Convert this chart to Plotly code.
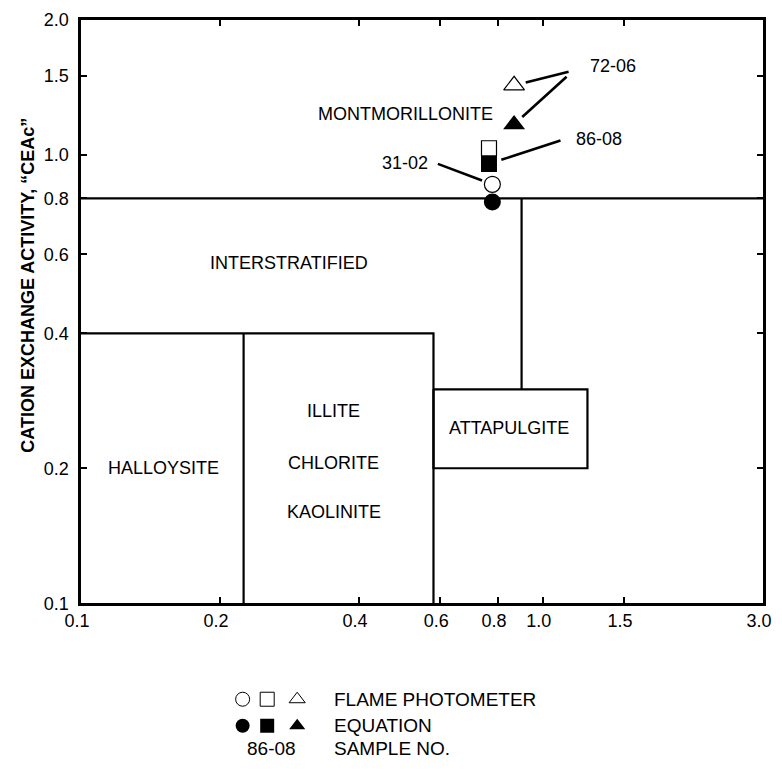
import math
import plotly.graph_objects as go

# ---------------- data ----------------
samples = ["31-02", "86-08", "72-06"]
symbols = ["circle", "square", "triangle-up"]
sample_x = [0.778, 0.765, 0.867]
flame_y = [0.86, 1.035, 1.43]
equation_y = [0.785, 0.955, 1.17]

x_ticks = [0.1, 0.2, 0.4, 0.6, 0.8, 1.0, 1.5, 3.0]
x_ticktext = ["0.1", "0.2", "0.4", "0.6", "0.8", "1.0", "1.5", "3.0"]
y_ticks = [0.1, 0.2, 0.4, 0.6, 0.8, 1.0, 1.5, 2.0]
y_ticktext = ["0.1", "0.2", "0.4", "0.6", "0.8", "1.0", "1.5", "2.0"]

# region boundaries (data units)
montmorillonite_floor = 0.8
interstrat_floor = 0.4
attapulgite_x = [0.58, 1.25]
attapulgite_y = [0.2, 0.3]
divider_x = 0.9
halloysite_limit_x = 0.225
low_box_right_x = 0.58

region_names = ["MONTMORILLONITE", "INTERSTRATIFIED", "HALLOYSITE",
                "ILLITE", "CHLORITE", "KAOLINITE", "ATTAPULGITE"]
region_label_x = [0.505, 0.282, 0.151, 0.353, 0.353, 0.353, 0.846]
region_label_y = [1.234, 0.575, 0.2, 0.269, 0.206, 0.160, 0.246]

y_title = "CATION EXCHANGE ACTIVITY, \u201cCEAc\u201d"

FONT = "Liberation Sans, Arial, sans-serif"
LW = 2.2

fig = go.Figure()


def line(xs, ys):
    fig.add_trace(go.Scatter(x=xs, y=ys, mode="lines",
                             line=dict(color="black", width=LW),
                             showlegend=False, hoverinfo="skip"))


line([0.1, 3.0], [montmorillonite_floor, montmorillonite_floor])
line([divider_x, divider_x], [montmorillonite_floor, attapulgite_y[1]])
line([attapulgite_x[0], attapulgite_x[1], attapulgite_x[1], attapulgite_x[0], attapulgite_x[0]],
     [attapulgite_y[1], attapulgite_y[1], attapulgite_y[0], attapulgite_y[0], attapulgite_y[1]])
line([0.1, low_box_right_x, low_box_right_x], [interstrat_floor, interstrat_floor, 0.1])
line([halloysite_limit_x, halloysite_limit_x], [0.1, interstrat_floor])

marker_sizes = {"circle": 16, "square": 15, "triangle-up": 18}

for i, s in enumerate(samples):
    sym = symbols[i]
    fig.add_trace(go.Scatter(
        x=[sample_x[i]], y=[flame_y[i]], mode="markers",
        marker=dict(symbol=sym + "-open", size=marker_sizes[sym], color="black",
                    line=dict(color="black", width=1.2)),
        showlegend=False, hoverinfo="skip"))
    fig.add_trace(go.Scatter(
        x=[sample_x[i]], y=[equation_y[i]], mode="markers",
        marker=dict(symbol=sym, size=marker_sizes[sym] + 1, color="black"),
        showlegend=False, hoverinfo="skip"))

# ---------------- legend (separate hidden subplot) ----------------
leg_x = [0.237, 0.273, 0.317]
leg_rows = [0.423, 0.244, 0.092]
for j, sym in enumerate(symbols):
    fig.add_trace(go.Scatter(
        x=[leg_x[j]], y=[leg_rows[0]], xaxis="x2", yaxis="y2", mode="markers",
        marker=dict(symbol=sym + "-open", size=14, color="black",
                    line=dict(color="black", width=1)),
        showlegend=False, hoverinfo="skip"))
    fig.add_trace(go.Scatter(
        x=[leg_x[j]], y=[leg_rows[1]], xaxis="x2", yaxis="y2", mode="markers",
        marker=dict(symbol=sym, size=14, color="black"),
        showlegend=False, hoverinfo="skip"))

annotations = []
lg = math.log10

for name, lx, ly in zip(region_names, region_label_x, region_label_y):
    annotations.append(dict(x=lg(lx), y=lg(ly), xref="x", yref="y", text=name,
                            showarrow=False, font=dict(family=FONT, size=18, color="black")))

# sample labels with leader lines
idx = {s: i for i, s in enumerate(samples)}
leaders = [("72-06", "flame", 56, -14, 12),
           ("72-06", "equation", 54, -49, 11),
           ("86-08", "equation", 73, -24, 13),
           ("31-02", "flame", -56, -21, 11)]
for s, series, ax, ay, so in leaders:
    i = idx[s]
    yy = flame_y[i] if series == "flame" else equation_y[i]
    annotations.append(dict(x=lg(sample_x[i]), y=lg(yy), xref="x", yref="y", text="",
                            showarrow=True, arrowhead=0, arrowwidth=2.6, arrowcolor="black",
                            ax=ax, ay=ay, standoff=so))

label_pos = [("72-06", "flame", 99, 19), ("86-08", "equation", 110, 25),
             ("31-02", "flame", -87, 21)]
for s, series, xs, ys in label_pos:
    i = idx[s]
    yy = flame_y[i] if series == "flame" else equation_y[i]
    annotations.append(dict(x=lg(sample_x[i]), y=lg(yy), xref="x", yref="y", text=s,
                            showarrow=False, xshift=xs, yshift=ys,
                            font=dict(family=FONT, size=18, color="black")))

legend_texts = ["FLAME PHOTOMETER", "EQUATION", "SAMPLE NO."]
for t, ry in zip(legend_texts, leg_rows):
    annotations.append(dict(x=0.368, y=ry, xref="x2", yref="y2", text=t, xanchor="left",
                            showarrow=False, font=dict(family=FONT, size=19, color="black")))
annotations.append(dict(x=0.279, y=leg_rows[2], xref="x2", yref="y2", text="86-08",
                        showarrow=False, font=dict(family=FONT, size=19, color="black")))

# y-axis title (placed as rotated text, left of tick labels)
annotations.append(dict(x=-0.078, y=0.643, xref="paper", yref="paper", text="<b>" + y_title + "</b>",
                        textangle=-90, showarrow=False, xanchor="center", yanchor="middle",
                        font=dict(family=FONT, size=18, color="black")))

axis_common = dict(showline=True, linecolor="black", linewidth=2.6, mirror="ticks",
                   ticks="inside", tickcolor="black", tickwidth=2, ticklen=6,
                   showgrid=False, zeroline=False,
                   tickfont=dict(family=FONT, size=18, color="black"))

fig.update_layout(
    width=782, height=782,
    margin=dict(l=81, r=10, t=15, b=10),
    paper_bgcolor="white", plot_bgcolor="white",
    showlegend=False,
    xaxis=dict(type="log", range=[lg(0.1), lg(3.0)], tickvals=x_ticks, ticktext=x_ticktext,
               domain=[0, 1], ticklabelshift=-4, **axis_common),
    yaxis=dict(type="log", range=[lg(0.1), lg(2.0)], tickvals=y_ticks, ticktext=y_ticktext,
               domain=[0.214, 1], ticklabelstandoff=6, **axis_common),
    xaxis2=dict(domain=[0, 1], range=[0, 1], anchor="y2", visible=False),
    yaxis2=dict(domain=[0, 0.2], range=[0, 1], anchor="x2", visible=False),
    annotations=annotations,
)

fig.write_html("out.html",
               config={"displayModeBar": False, "staticPlot": True},
               post_script="document.body.style.margin='0';document.body.style.overflow='hidden';")
